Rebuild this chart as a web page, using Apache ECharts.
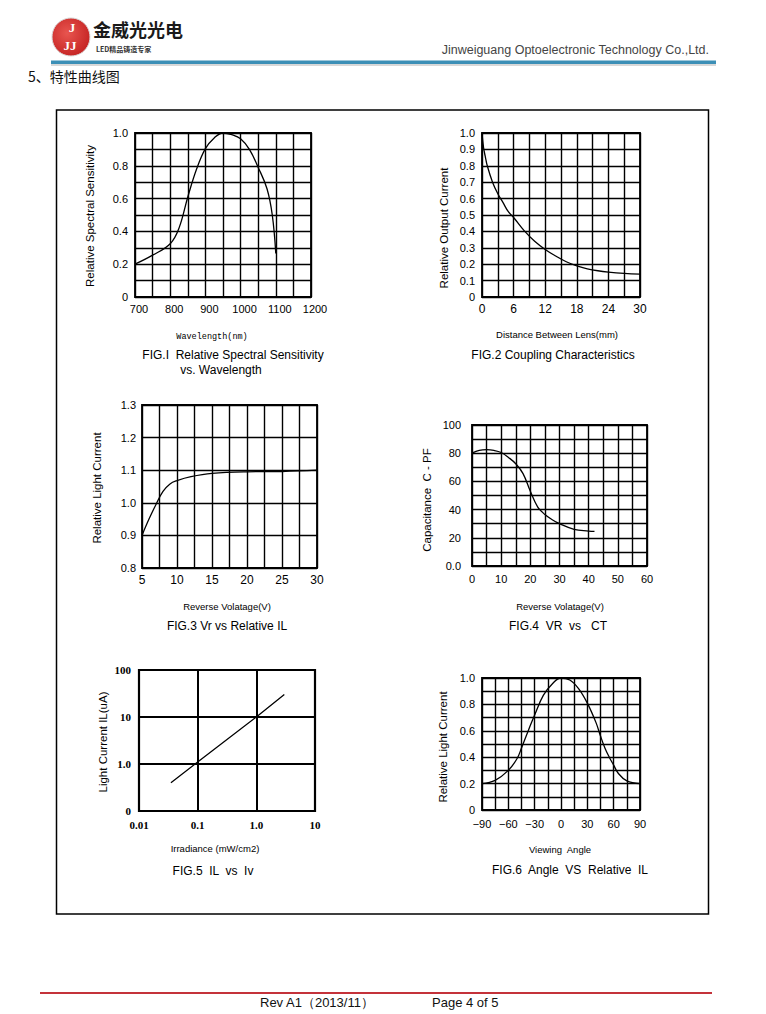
<!DOCTYPE html>
<html><head><meta charset="utf-8">
<script src="https://cdn.jsdelivr.net/npm/echarts@6/dist/echarts.min.js"></script>
<style>html,body{margin:0;padding:0;background:#fff}#c{width:766px;height:1014px}</style>
</head><body><div id="c"></div>
<script>
// ---------- data ----------
const fig1Wave = [700,750,800,825,850,875,900,925,950,975,1000,1025,1050,1075,1090,1100];
const fig1Sens = [0.20,0.255,0.325,0.42,0.61,0.78,0.905,0.97,1.00,0.99,0.965,0.90,0.79,0.66,0.50,0.265];
const fig1XTicks = [700,800,900,1000,1100,1200];
const fig1XLabels = ['700','800','900','1000','1100','1200'];
const fig1YTicks = [0,0.2,0.4,0.6,0.8,1.0];
const fig1YLabels = ['0','0.2','0.4','0.6','0.8','1.0'];

const fig2Dist = [0,0.3,0.6,1,2,3,4,5,6,8,10,12,14,16,18,20,22,24,27,30];
const fig2Out = [1.0,0.91,0.86,0.80,0.70,0.63,0.575,0.52,0.485,0.405,0.34,0.29,0.25,0.215,0.19,0.172,0.16,0.152,0.144,0.139];
const fig2XTicks = [0,6,12,18,24,30];
const fig2XLabels = ['0','6','12','18','24','30'];
const fig2YTicks = [0,0.1,0.2,0.3,0.4,0.5,0.6,0.7,0.8,0.9,1.0];
const fig2YLabels = ['0','0.1','0.2','0.3','0.4','0.5','0.6','0.7','0.8','0.9','1.0'];

const fig3Volt = [5,6,7,8,9,10,12,15,20,25,30];
const fig3IL = [0.90,0.95,0.995,1.035,1.058,1.068,1.08,1.09,1.095,1.096,1.10];
const fig3XTicks = [5,10,15,20,25,30];
const fig3XLabels = ['5','10','15','20','25','30'];
const fig3YTicks = [0.8,0.9,1.0,1.1,1.2,1.3];
const fig3YLabels = ['0.8','0.9','1.0','1.1','1.2','1.3'];

const fig4Volt = [0,2.5,5,7.5,10,12.5,15,17.5,20,22.5,25,27.5,30,35,40,42];
const fig4Cap = [80,82,82.5,82,80.5,77,72.5,65.5,53,42,36.5,32.8,30,26,24.8,24.5];
const fig4XTicks = [0,10,20,30,40,50,60];
const fig4XLabels = ['0','10','20','30','40','50','60'];
const fig4YTicks = [0,20,40,60,80,100];
const fig4YLabels = ['0.0','20','40','60','80','100'];

const fig5Irr = [0.035,0.1,1.0,3.0];
const fig5IL = [0.4,1.1,10,30];
const fig5XTicks = [0.01,0.1,1,10];
const fig5XLabels = ['0.01','0.1','1.0','10'];
const fig5YTicks = [0.1,1,10,100];
const fig5YLabels = ['0','1.0','10','100'];

const fig6Ang = [-90,-75,-60,-50,-45,-35,-30,-20,-10,0,10,20,30,40,45,50,55,60,65,75,90];
const fig6Rel = [0.2,0.225,0.3,0.39,0.47,0.64,0.72,0.87,0.955,1.0,0.985,0.92,0.81,0.66,0.56,0.47,0.4,0.34,0.28,0.22,0.2];
const fig6XTicks = [-90,-60,-30,0,30,60,90];
const fig6XLabels = ['\u221290','\u221260','\u221230','0','30','60','90'];
const fig6YTicks = [0,0.2,0.4,0.6,0.8,1.0];
const fig6YLabels = ['0','0.2','0.4','0.6','0.8','1.0'];

// ---------- helpers ----------
const zip = (a,b) => a.map((v,i)=>[v,b[i]]);
function lab(vals, labels){
  return function(v){
    for (let i=0;i<vals.length;i++){
      if (Math.abs(vals[i]-v) <= 1e-6*Math.max(1,Math.abs(vals[i]))) return labels[i];
    }
    return '';
  };
}
const SANS = 'Liberation Sans, Arial, sans-serif';
const SERIF = 'Liberation Serif, Times New Roman, serif';
const gridLine = {show:true, lineStyle:{color:'#000', width:1.4}};

function xAx(gi, min, max, interval, ticks, labels, opt){
  opt = opt || {};
  return {
    gridIndex:gi, type:'value', min:min, max:max, interval:interval,
    axisLine:{show:false}, axisTick:{show:false},
    splitLine:opt.splitLine || gridLine,
    axisLabel:{formatter:lab(ticks,labels), color:'#000', fontSize:opt.fontSize||11,
      fontFamily:opt.fontFamily||SANS, margin:opt.margin||6, showMinLabel:true, showMaxLabel:true,
      padding:opt.padding||0, hideOverlap:false}
  };
}
function yAx(gi, min, max, interval, ticks, labels, opt){
  opt = opt || {};
  return {
    gridIndex:gi, type:'value', min:min, max:max, interval:interval,
    axisLine:{show:false}, axisTick:{show:false},
    splitLine:opt.splitLine || gridLine,
    axisLabel:{formatter:lab(ticks,labels), color:'#000', fontSize:opt.fontSize||11,
      fontFamily:opt.fontFamily||SANS, margin:opt.margin||7, showMinLabel:true, showMaxLabel:true, hideOverlap:false}
  };
}
function line(i, data, smooth){
  return {type:'line', xAxisIndex:i, yAxisIndex:i, data:data, showSymbol:false, symbol:'none',
    smooth:smooth, lineStyle:{color:'#000', width:1.3}, silent:true, animation:false};
}
function grid(l,t,w,h,bw){
  return {left:l, top:t, width:w, height:h, show:true, borderColor:'#000', borderWidth:bw||1.8, backgroundColor:'transparent'};
}
function txt(x,y,s,size,opt){
  opt = opt||{};
  return {type:'text', x:x, y:y, rotation:opt.rot||0, z:100, silent:true,
    style:{text:s, fontSize:size, fontFamily:opt.font||SANS, fontWeight:opt.weight||'normal',
      fill:opt.fill||'#000', align:opt.align||'center', verticalAlign:'middle',
      textAlign:opt.align||'center', textVerticalAlign:'middle'}};
}
const ROT = Math.PI/2;

// ---------- chart ----------
const chart = echarts.init(document.getElementById('c'), null, {renderer:'svg', width:766, height:1014});
chart.setOption({
  animation:false,
  backgroundColor:'#fff',
  grid:[
    grid(135,133,176,164),
    grid(482,133,158,164),
    grid(142,405,175,163),
    grid(472,425,175,141),
    grid(139,670,176,141,2.2),
    grid(482,678,158,132)
  ],
  xAxis:[
    xAx(0,700,1200,50,fig1XTicks,fig1XLabels,{margin:6,padding:[0,0,0,8]}),
    xAx(1,0,30,3,fig2XTicks,fig2XLabels,{margin:6,fontSize:12}),
    xAx(2,5,30,2.5,fig3XTicks,fig3XLabels,{margin:6,fontSize:12}),
    xAx(3,0,60,5,fig4XTicks,fig4XLabels,{margin:7,fontSize:11}),
    {gridIndex:4, type:'log', logBase:10, min:0.01, max:10,
      axisLine:{show:false}, axisTick:{show:false}, minorTick:{show:false},
      splitLine:{show:true, lineStyle:{color:'#000', width:2}},
      axisLabel:{formatter:lab(fig5XTicks,fig5XLabels), color:'#000', fontSize:11, fontFamily:SERIF, fontWeight:'bold', margin:8, showMinLabel:true, showMaxLabel:true}},
    xAx(5,-90,90,15,fig6XTicks,fig6XLabels,{margin:8,fontSize:11})
  ],
  yAxis:[
    yAx(0,0,1,0.1,fig1YTicks,fig1YLabels,{margin:7}),
    yAx(1,0,1,0.1,fig2YTicks,fig2YLabels,{margin:7,fontSize:11}),
    yAx(2,0.8,1.3,0.1,fig3YTicks,fig3YLabels,{margin:6,fontSize:11}),
    yAx(3,0,100,10,fig4YTicks,fig4YLabels,{margin:11,fontSize:11}),
    {gridIndex:4, type:'log', logBase:10, min:0.1, max:100,
      axisLine:{show:false}, axisTick:{show:false}, minorTick:{show:false},
      splitLine:{show:true, lineStyle:{color:'#000', width:2}},
      axisLabel:{formatter:lab(fig5YTicks,fig5YLabels), color:'#000', fontSize:11, fontFamily:SERIF, fontWeight:'bold', margin:8, showMinLabel:true, showMaxLabel:true}},
    yAx(5,0,1,0.1,fig6YTicks,fig6YLabels,{margin:7,fontSize:11})
  ],
  series:[
    line(0, zip(fig1Wave,fig1Sens), 0.4),
    line(1, zip(fig2Dist,fig2Out), 0.4),
    line(2, zip(fig3Volt,fig3IL), 0.4),
    line(3, zip(fig4Volt,fig4Cap), 0.4),
    line(4, zip(fig5Irr,fig5IL), false),
    line(5, zip(fig6Ang,fig6Rel), 0.4)
  ],
  graphic:[
    // header logo
    {type:'circle', shape:{cx:71, cy:37, r:19}, z:90, silent:true,
      style:{fill:new echarts.graphic.RadialGradient(0.4,0.4,0.7,[{offset:0,color:'#e8554f'},{offset:1,color:'#c21f1f'}]), stroke:'#d9d9d9', lineWidth:1}},
    txt(72,27,'J',13,{font:SERIF, weight:'bold', fill:'#fff'}),
    txt(70,45,'JJ',13,{font:SERIF, weight:'bold', fill:'#fff'}),
    txt(93,29,'金威光光电',18,{font:'Noto Sans CJK SC', weight:'bold', fill:'#1a1a1a', align:'left'}),
    txt(96,48.5,'LED精品铸造专家',7,{font:'Noto Sans CJK SC', weight:'bold', fill:'#333', align:'left'}),
    txt(709,50,'Jinweiguang Optoelectronic Technology Co.,Ltd.',12.5,{font:'Liberation Sans Narrow, Liberation Sans, sans-serif', fill:'#444', align:'right'}),
    {type:'rect', shape:{x:51, y:64, width:665, height:2}, z:89, silent:true, style:{fill:'#d8d8d8'}},
    {type:'rect', shape:{x:51, y:60.5, width:665, height:3.5}, z:90, silent:true, style:{fill:'#3c8fb6'}},
    txt(28,76,'5、特性曲线图',14,{font:'Noto Sans CJK SC', fill:'#111', align:'left'}),
    // frame
    {type:'rect', shape:{x:56.5, y:110, width:652, height:804}, z:1, silent:true, style:{fill:'none', stroke:'#000', lineWidth:1.5}},
    // fig 1 texts
    txt(90,216,'Relative Spectral Sensitivity',11.5,{rot:ROT}),
    txt(212,337,'Wavelength(nm)',8.5,{font:'Liberation Mono, DejaVu Sans Mono, monospace'}),
    txt(233,355,'FIG.I  Relative Spectral Sensitivity',12),
    txt(221,370,'vs. Wavelength',12),
    // fig 2
    txt(444,228,'Relative Output Current',11.5,{rot:ROT}),
    txt(557,334,'Distance Between Lens(mm)',9.5),
    txt(553,355,'FIG.2 Coupling Characteristics',12),
    // fig 3
    txt(97,488,'Relative Light Current',11.5,{rot:ROT}),
    txt(227,606,'Reverse Volatage(V)',9.5),
    txt(227,626,'FIG.3 Vr vs Relative IL',12),
    // fig 4
    txt(427,500,'Capacitance  C - PF',11.5,{rot:ROT}),
    txt(560,606,'Reverse Volatage(V)',9.5),
    txt(558,626,'FIG.4  VR  vs   CT',12),
    // fig 5
    txt(103,742,'Light Current IL(uA)',11.5,{rot:ROT}),
    txt(215,848,'Irradiance (mW/cm2)',9.5),
    txt(213,871,'FIG.5  IL  vs  Iv',12),
    // fig 6
    txt(443,747,'Relative Light Current',11.5,{rot:ROT}),
    txt(560,849,'Viewing  Angle',9.5),
    txt(570,870,'FIG.6  Angle  VS  Relative  IL',12),
    // footer
    {type:'rect', shape:{x:40, y:992, width:672, height:2}, z:90, silent:true, style:{fill:'#c4323a'}},
    txt(260,1002,'Rev A1（2013/11）',13,{align:'left', fill:'#111'}),
    txt(432,1002,'Page 4 of 5',13,{align:'left', fill:'#111'})
  ]
});
</script>
</body></html>
